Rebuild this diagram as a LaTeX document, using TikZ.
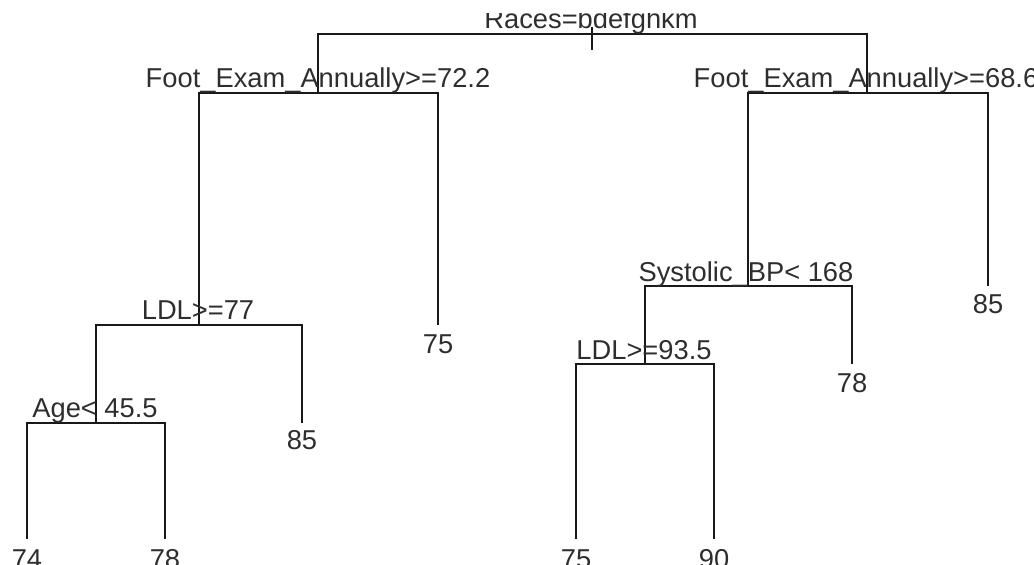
\documentclass[tikz,border=0pt]{standalone}
\usepackage{fontspec}
\setmainfont{Liberation Sans}
\begin{document}
\begin{tikzpicture}[x=1pt,y=-1pt,
  br/.style={line width=1.5pt, draw=black!90},
  lab/.style={font=\fontsize{27.3}{28}\selectfont, text=black!82, inner sep=0pt, anchor=base}]
\useasboundingbox (0,0) rectangle (1034,565);
\clip (0,13) rectangle (1034,565);
% split nodes
\coordinate (r) at (592,34);
\coordinate (L) at (318,93);
\coordinate (R) at (867,93);
\coordinate (LL) at (199,325);
\coordinate (LLL) at (96,423);
\coordinate (RL) at (748,286);
\coordinate (RLL) at (645,364);
% leaves
\coordinate (LR) at (438,325);
\coordinate (LLR) at (302,423);
\coordinate (LLLa) at (27,539);
\coordinate (LLLb) at (165,539);
\coordinate (RR) at (988,286);
\coordinate (RLR) at (852,364);
\coordinate (RLLa) at (576,539);
\coordinate (RLLb) at (714,539);
% root stub
\coordinate (rtop) at (592,27);
\coordinate (rbot) at (592,50);
\draw[br] (rtop) -- (rbot);
% branches
\draw[br] (L) -- (L |- r) -- (R |- r) -- (R);
\draw[br] (LL) -- (LL |- L) -- (LR |- L) -- (LR);
\draw[br] (LLL) -- (LLL |- LL) -- (LLR |- LL) -- (LLR);
\draw[br] (LLLa) -- (LLLa |- LLL) -- (LLLb |- LLL) -- (LLLb);
\draw[br] (RL) -- (RL |- R) -- (RR |- R) -- (RR);
\draw[br] (RLL) -- (RLL |- RL) -- (RLR |- RL) -- (RLR);
\draw[br] (RLLa) -- (RLLa |- RLL) -- (RLLb |- RLL) -- (RLLb);
% split labels
\node[lab] (tr) at (591,28) {Races=bdefghkm};
\node[lab] (tL) at (318,87) {Foot\_Exam\_Annually>=72.2};
\node[lab] (tR) at (866,87) {Foot\_Exam\_Annually>=68.6};
\node[lab] (tLL) at (198,319) {LDL>=77};
\node[lab] (tLLL) at (95,417) {Age< 45.5};
\node[lab] (tRL) at (746,281) {Systolic\_BP< 168};
\node[lab] (tRLL) at (644,359) {LDL>=93.5};
% leaf labels
\node[lab] (vLR) at (438,353) {75};
\node[lab] (vLLR) at (302,449) {85};
\node[lab] (vLLLa) at (27,568) {74};
\node[lab] (vLLLb) at (165,568) {78};
\node[lab] (vRR) at (988,313) {85};
\node[lab] (vRLR) at (852,392) {78};
\node[lab] (vRLLa) at (576,568) {75};
\node[lab] (vRLLb) at (714,568) {90};
\end{tikzpicture}
\end{document}
